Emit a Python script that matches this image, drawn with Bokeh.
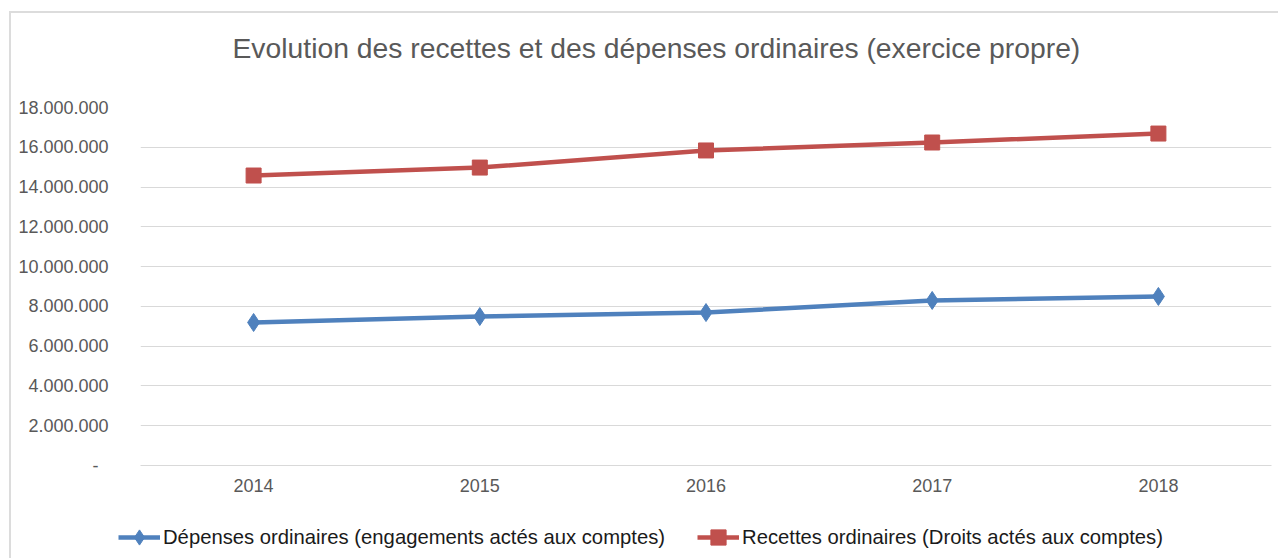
from bokeh.plotting import figure
from bokeh.models import (FactorRange, Range1d, FixedTicker, Legend, LegendItem,
                          Label)
from bokeh.embed import file_html
from bokeh.resources import INLINE

years = ["2014", "2015", "2016", "2017", "2018"]
depenses = [7190000, 7490000, 7690000, 8300000, 8500000]
recettes = [14580000, 14980000, 15840000, 16240000, 16690000]
y_ticks = [0, 2000000, 4000000, 6000000, 8000000, 10000000, 12000000,
           14000000, 16000000, 18000000]
y_tick_labels = ["-\u00a0\u00a0", "2.000.000", "4.000.000", "6.000.000", "8.000.000",
                 "10.000.000", "12.000.000", "14.000.000", "16.000.000", "18.000.000"]
title_text = "Evolution des recettes et des dépenses ordinaires (exercice propre)"
label_dep = "Dépenses ordinaires (engagements actés aux comptes)"
label_rec = "Recettes ordinaires (Droits actés aux comptes)"

FONT = "Liberation Sans"
BLUE = "#4F81BD"
RED = "#C0504D"
GRID = "#d9d9d9"
TXT = "#595959"
W = 1275
NAN = float("nan")

CSS_TOP = (":host { position: relative; }"
           " :host::after { content: ''; position: absolute; left: 9px; top: 11px;"
           " right: -20px; bottom: -20px; border-left: 2px solid #dcdcdc;"
           " border-top: 2px solid #dcdcdc; pointer-events: none; z-index: 10; }")
CSS_SIDE = (":host { position: relative; }"
            " :host::after { content: ''; position: absolute; left: 9px; top: 0px;"
            " width: 0px; bottom: -20px; border-left: 2px solid #dcdcdc;"
            " pointer-events: none; z-index: 10; }")

# ---------------- title strip ----------------
t = figure(width=W, height=80, x_range=Range1d(0, W), y_range=Range1d(0, 80),
           output_backend="svg", toolbar_location=None,
           x_axis_type=None, y_axis_type=None, min_border=0,
           stylesheets=[CSS_TOP])
t.outline_line_color = None
t.xgrid.grid_line_color = None
t.ygrid.grid_line_color = None
t.border_fill_color = "white"
t.add_layout(Label(x=232, y=33, x_units="screen", y_units="screen",
                   text=title_text, text_align="left", text_baseline="middle",
                   text_font=FONT, text_font_size="28.3px", text_color=TXT))

# ---------------- main chart ----------------
p = figure(width=W, height=425, x_range=FactorRange(*years),
           y_range=Range1d(0, 18000000), output_backend="svg",
           toolbar_location=None, min_border_left=140, min_border_right=4,
           min_border_top=27, min_border_bottom=40,
           stylesheets=[CSS_SIDE])
p.outline_line_color = None
p.background_fill_color = "white"
p.border_fill_color = "white"

p.xgrid.grid_line_color = None
p.ygrid.grid_line_color = GRID
p.ygrid.grid_line_width = 1

p.yaxis.ticker = FixedTicker(ticks=y_ticks)
p.yaxis.major_label_overrides = {t_: l for t_, l in zip(y_ticks, y_tick_labels)}
p.yaxis.axis_line_color = None
p.yaxis.major_tick_line_color = None
p.yaxis.minor_tick_line_color = None
p.yaxis.major_tick_out = 0
p.yaxis.major_label_standoff = 32
p.yaxis.major_label_text_font = FONT
p.yaxis.major_label_text_font_size = "18px"
p.yaxis.major_label_text_color = TXT

p.xaxis.axis_line_color = GRID
p.xaxis.axis_line_width = 1
p.xaxis.major_tick_line_color = None
p.xaxis.minor_tick_line_color = None
p.xaxis.major_tick_out = 0
p.xaxis.major_label_standoff = 13
p.xaxis.major_label_text_font = FONT
p.xaxis.major_label_text_font_size = "18px"
p.xaxis.major_label_text_color = TXT

LINE_W = 4.5
DIA = 18
SQ = 15

p.line(years, depenses, line_width=LINE_W, line_color=BLUE)
p.scatter(years, depenses, marker="diamond", size=DIA, fill_color=BLUE,
          line_color=BLUE)
p.line(years, recettes, line_width=LINE_W, line_color=RED)
p.scatter(years, recettes, marker="square", size=SQ, fill_color=RED,
          line_color=RED)

# ---------------- legend strip ----------------
q = figure(width=W, height=50, x_range=Range1d(0, W), y_range=Range1d(0, 50),
           output_backend="svg", toolbar_location=None,
           x_axis_type=None, y_axis_type=None, min_border=0,
           stylesheets=[CSS_SIDE])
q.outline_line_color = None
q.xgrid.grid_line_color = None
q.ygrid.grid_line_color = None
q.border_fill_color = "white"

ql1 = q.line([NAN], [NAN], line_width=LINE_W, line_color=BLUE)
qs1 = q.scatter([NAN], [NAN], marker="diamond", size=DIA, fill_color=BLUE,
                line_color=BLUE)
ql2 = q.line([NAN], [NAN], line_width=LINE_W, line_color=RED)
qs2 = q.scatter([NAN], [NAN], marker="square", size=SQ, fill_color=RED,
                line_color=RED)

legend = Legend(items=[LegendItem(label=label_dep, renderers=[ql1, qs1]),
                       LegendItem(label=label_rec, renderers=[ql2, qs2])],
                orientation="horizontal", location=(118, -1),
                glyph_width=42, glyph_height=38, label_standoff=3, spacing=32,
                padding=0, margin=0, border_line_color=None,
                background_fill_alpha=0, label_text_font=FONT,
                label_text_font_size="20.25px", label_text_color="#1a1a1a",
                label_height=38)
q.add_layout(legend)

open("out.html", "w").write(file_html([t, p, q], INLINE))
